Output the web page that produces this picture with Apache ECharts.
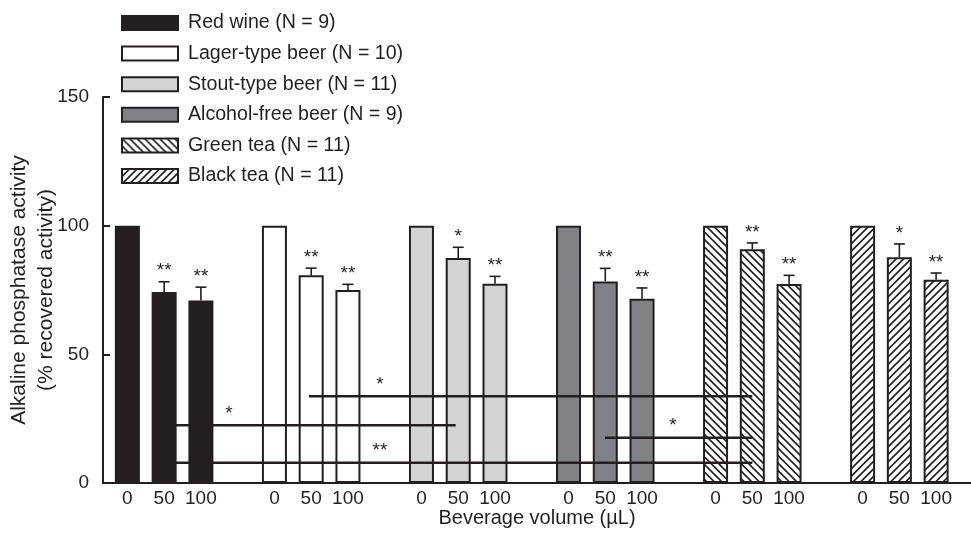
<!DOCTYPE html>
<html>
<head>
<meta charset="utf-8">
<script src="https://cdn.jsdelivr.net/npm/echarts@6/dist/echarts.min.js"></script>
<style>
  html, body { margin: 0; padding: 0; background: #fff; }
  #chart { width: 971px; height: 537px; }
</style>
</head>
<body>
<div id="chart"></div>
<script>
// ---- data ----
const volumes = ['0', '50', '100'];
const beverages = ['Red wine (N = 9)', 'Lager-type beer (N = 10)', 'Stout-type beer (N = 11)',
                   'Alcohol-free beer (N = 9)', 'Green tea (N = 11)', 'Black tea (N = 11)'];
const redWine     = [100, 74.2, 70.9];
const lagerBeer   = [100, 80.7, 75.0];
const stoutBeer   = [100, 87.4, 77.4];
const alcFreeBeer = [100, 78.3, 71.6];
const greenTea    = [100, 90.8, 77.3];
const blackTea    = [100, 87.7, 79.0];
const redWineErr     = [0, 4.0, 5.2];
const lagerBeerErr   = [0, 2.8, 2.2];
const stoutBeerErr   = [0, 4.2, 2.9];
const alcFreeBeerErr = [0, 5.1, 4.2];
const greenTeaErr    = [0, 2.5, 3.4];
const blackTeaErr    = [0, 5.2, 2.6];
const redWineSig     = ['', '**', '**'];
const lagerBeerSig   = ['', '**', '**'];
const stoutBeerSig   = ['', '*', '**'];
const alcFreeBeerSig = ['', '**', '**'];
const greenTeaSig    = ['', '**', '**'];
const blackTeaSig    = ['', '*', '**'];
// comparison lines: from slot, to slot, level (%), star slot, stars
const compFrom  = [4.94, 1.0, 1.0, 12.99];
const compTo    = [17.0, 8.93, 17.0, 17.0];
const compLevel = [33.7, 22.4, 7.9, 17.6];
const compStarX = [6.87, 2.76, 6.87, 14.84];
const compStars = ['*', '*', '**', '*'];
const yTicks = [0, 50, 100, 150];

// ---- styling helpers ----
const INK = '#231f20';
const FONT = 'Liberation Sans, Arial, Helvetica, sans-serif';

function hatch(dir) {
  const s = 15, p = 7.5;
  const c = document.createElement('canvas');
  c.width = s; c.height = s;
  const g = c.getContext('2d');
  g.fillStyle = '#fff'; g.fillRect(0, 0, s, s);
  g.strokeStyle = INK; g.lineWidth = 1.6;
  for (let k = -4; k <= 8; k++) {
    const off = k * p;
    g.beginPath();
    if (dir === 'back') { g.moveTo(-2, -2 + off); g.lineTo(s + 2, s + 2 + off); }
    else { g.moveTo(-2, s + 2 - off); g.lineTo(s + 2, -2 - off); }
    g.stroke();
  }
  return { image: c, repeat: 'repeat' };
}

const fills = [INK, '#ffffff', '#d1d3d4', '#808285', hatch('back'), hatch('fwd')];
const values = [redWine, lagerBeer, stoutBeer, alcFreeBeer, greenTea, blackTea];
const errs = [redWineErr, lagerBeerErr, stoutBeerErr, alcFreeBeerErr, greenTeaErr, blackTeaErr];
const sigs = [redWineSig, lagerBeerSig, stoutBeerSig, alcFreeBeerSig, greenTeaSig, blackTeaSig];

// category slots: 3 volumes per beverage, one empty slot between groups
const slots = [];
beverages.forEach((b, bi) => {
  volumes.forEach(v => slots.push(v));
  if (bi < beverages.length - 1) slots.push('');
});

const barSeries = beverages.map((name, bi) => {
  const data = slots.map(() => '-');
  values[bi].forEach((v, vi) => { data[bi * 4 + vi] = v; });
  return {
    name, type: 'bar', xAxisIndex: 1, yAxisIndex: 1,
    barWidth: 25, barGap: '-100%',
    itemStyle: { color: fills[bi], borderColor: INK, borderWidth: 2 },
    data, z: 2
  };
});

const errData = [], errSig = [];
beverages.forEach((b, bi) => {
  values[bi].forEach((v, vi) => {
    errData.push([bi * 4 + vi, v, errs[bi][vi]]);
    errSig.push(sigs[bi][vi]);
  });
});

const errSeries = {
  type: 'custom', xAxisIndex: 1, yAxisIndex: 1, z: 5, silent: true,
  data: errData,
  renderItem: (params, api) => {
    const x = api.value(0), v = api.value(1), e = api.value(2);
    const top = api.coord([x, v]);
    const up = api.coord([x, v + e]);
    const ch = [];
    if (e > 0) {
      ch.push({ type: 'line', shape: { x1: top[0], y1: top[1], x2: up[0], y2: up[1] },
                style: { stroke: INK, lineWidth: 1.6 } });
      ch.push({ type: 'line', shape: { x1: up[0] - 5.5, y1: up[1], x2: up[0] + 5.5, y2: up[1] },
                style: { stroke: INK, lineWidth: 1.6 } });
    }
    const s = errSig[params.dataIndex];
    if (s) {
      ch.push({ type: 'text', x: up[0], y: up[1] - 1,
                style: { text: s, fill: INK, font: '19px ' + FONT, align: 'center', verticalAlign: 'bottom' } });
    }
    return { type: 'group', children: ch };
  }
};

const compData = compFrom.map((f, i) => [f, compTo[i], compLevel[i], compStarX[i]]);
const compSeries = {
  type: 'custom', xAxisIndex: 2, yAxisIndex: 1, z: 6, silent: true,
  data: compData,
  encode: { x: [0, 1, 3], y: 2 },
  renderItem: (params, api) => {
    const a = api.coord([api.value(0), api.value(2)]);
    const b = api.coord([api.value(1), api.value(2)]);
    const t = api.coord([api.value(3), api.value(2)]);
    return { type: 'group', children: [
      { type: 'line', shape: { x1: a[0], y1: a[1], x2: b[0], y2: b[1] },
        style: { stroke: INK, lineWidth: 2.5 } },
      { type: 'text', x: t[0], y: t[1] - 2,
        style: { text: compStars[params.dataIndex], fill: INK, font: '19px ' + FONT,
                 align: 'center', verticalAlign: 'bottom' } }
    ]};
  }
};

const chart = echarts.init(document.getElementById('chart'));
chart.setOption({
  animation: false,
  backgroundColor: '#fff',
  textStyle: { fontFamily: FONT, color: INK },
  legend: {
    orient: 'vertical', left: 116, top: 8,
    itemWidth: 56, itemHeight: 14, itemGap: 10.6,
    icon: 'rect',
    selectedMode: false,
    data: beverages,
    textStyle: { fontSize: 19.6, color: INK, fontFamily: FONT, padding: [0, 0, 0, 5] }
  },
  grid: [
    { left: 103, right: 0, top: 97, bottom: 54, outerBoundsMode: 'none', containLabel: false },
    { left: 109, right: 16.5, top: 97, bottom: 54, outerBoundsMode: 'none', containLabel: false }
  ],
  xAxis: [
    { type: 'value', gridIndex: 0, min: 0, max: 1,
      axisLine: { show: true, lineStyle: { color: INK, width: 2 } },
      axisTick: { show: false }, axisLabel: { show: false }, splitLine: { show: false },
      name: 'Beverage volume (µL)', nameLocation: 'middle', nameGap: 25, nameMoveOverlap: false,
      nameTextStyle: { fontSize: 20, color: INK, fontFamily: FONT } },
    { type: 'category', gridIndex: 1, data: slots,
      axisLine: { show: false }, axisTick: { show: false },
      axisLabel: { interval: 0, fontSize: 19, color: INK, margin: 6, fontFamily: FONT } },
    { type: 'value', gridIndex: 1, min: -0.5, max: 22.5, show: false }
  ],
  yAxis: [
    { type: 'value', gridIndex: 0, min: yTicks[0], max: yTicks[yTicks.length - 1], interval: 50,
      axisLine: { show: true, lineStyle: { color: INK, width: 2 } },
      axisTick: { show: true, inside: true, length: 7, lineStyle: { color: INK, width: 2 } },
      axisLabel: { fontSize: 19, color: INK, margin: 14, fontFamily: FONT },
      splitLine: { show: false },
      name: 'Alkaline phosphatase activity\n(% recovered activity)',
      nameLocation: 'middle', nameGap: 43, nameMoveOverlap: false,
      nameTextStyle: { fontSize: 21, color: INK, lineHeight: 27, fontFamily: FONT } },
    { type: 'value', gridIndex: 1, min: 0, max: 150, show: false }
  ],
  series: [...barSeries, errSeries, compSeries]
});
</script>
</body>
</html>
